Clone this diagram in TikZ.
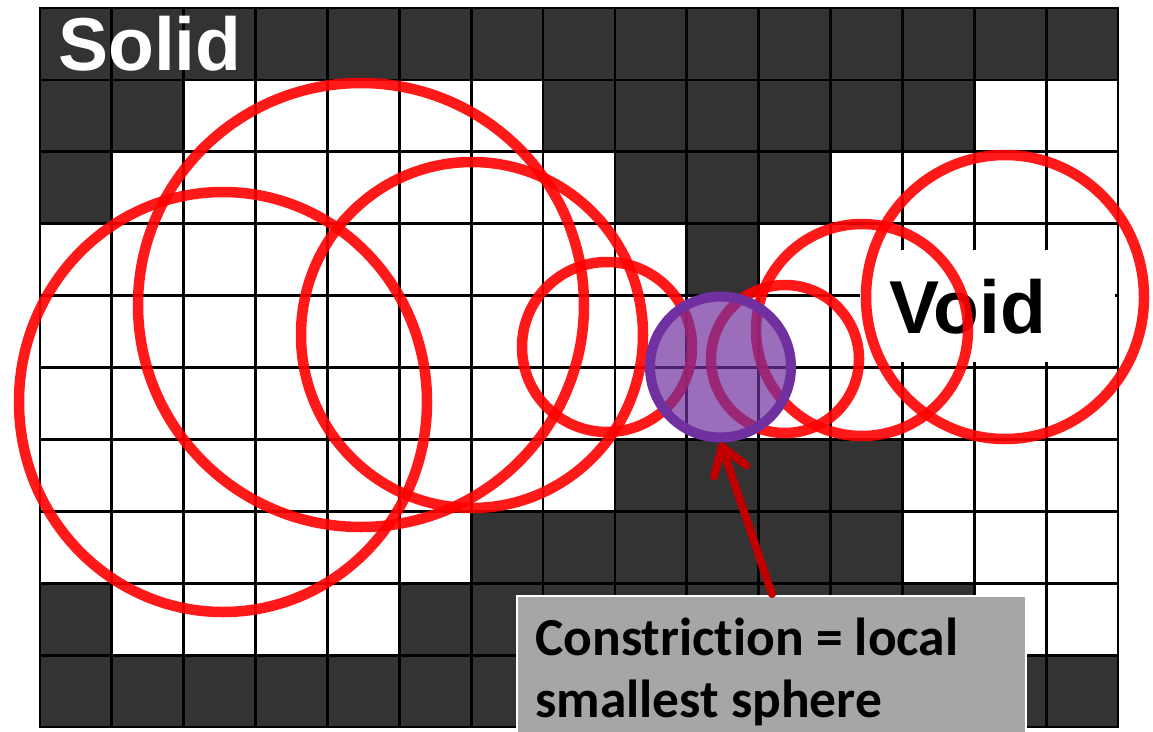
\documentclass[tikz,border=0pt]{standalone}
\usepackage{fontspec}
\setmainfont{Liberation Sans}
\newfontfamily\notefont[Ligatures=NoCommon]{Carlito}
\usetikzlibrary{arrows.meta}
\definecolor{cellgray}{HTML}{333333}
\definecolor{ringred}{HTML}{FF0000}
\definecolor{ringpurple}{HTML}{7030A0}
\definecolor{arrowred}{HTML}{C00000}
\definecolor{notegray}{HTML}{A6A6A6}

\begin{document}
\begin{tikzpicture}[x=1pt,y=-1pt,
  solidcell/.style={fill=cellgray},
  gridline/.style={draw=black, line width=2.8pt},
  pore/.style={draw=ringred, draw opacity=0.9, line width=10.5pt},
  constriction/.style={circle, draw=ringpurple, line width=10pt,
    fill=ringpurple, fill opacity=0.7, minimum size=141pt, inner sep=0pt},
  pointer/.style={draw=arrowred, line width=8pt, line cap=round,
    -{Straight Barb[length=26pt,width=34pt,line cap=round,line join=round]}},
  notebox/.style={rectangle, fill=notegray, draw=white, line width=2pt,
    anchor=north west, minimum width=509pt, minimum height=140pt, inner sep=0pt},
  bigword/.style={anchor=base west, inner sep=0pt,
    font=\bfseries\fontsize{75}{80}\selectfont},
  noteline/.style={anchor=base west, inner sep=0pt,
    font=\notefont\bfseries\fontsize{53.5}{62}\selectfont}
]
\useasboundingbox (0,0) rectangle (1153,731);

% solid voxels, row by row
\foreach \r/\cols in {0/{0,...,14},
                      1/{0,1,7,8,9,10,11,12},
                      2/{0,8,9,10},
                      3/{9},
                      6/{8,9,10,11},
                      7/{6,7,8,9,10,11},
                      8/{0,5,6,7,8,9,10,11,12},
                      9/{0,...,14}}{
  \foreach \c in \cols{
    \fill[solidcell] ({40+\c*71.87},{8+\r*71.9}) rectangle ++(71.87,71.9);
  }
}

% voxel grid
\foreach \i in {1,...,14}
  \draw[gridline] ({40+\i*71.87},8) -- ({40+\i*71.87},727);
\foreach \j in {1,...,9}
  \draw[gridline] (40,{8+\j*71.9}) -- (1118,{8+\j*71.9});
\draw[gridline] (40,8) rectangle (1118,727);

% label backgrounds and labels
\fill[white] (860,250) rectangle (1115,362);
\node[bigword, text=white] (solid) at (58,70) {Solid};
\node[bigword, text=black] (void) at (889,333) {Void};

% inscribed spheres along the pore
\draw[pore] (223,402) ellipse [x radius=204pt, y radius=210pt];
\draw[pore] (361,305) ellipse [x radius=223pt, y radius=222pt];
\draw[pore] (472,335) ellipse [x radius=171pt, y radius=173pt];
\draw[pore] (607,347) circle [radius=85pt];
\draw[pore] (785,359) circle [radius=74pt];
\draw[pore] (862,330) circle [radius=106pt];
\draw[pore] (1005,297) ellipse [x radius=139pt, y radius=142pt];

% smallest sphere
\node[constriction] (neck) at (720.5,367) {};

% explanation box
\node[notebox] (note) at (516,595) {};
\node[noteline] (line1) at (535,655) {Constriction = local};
\node[noteline] (line2) at (535,717) {smallest sphere};

\coordinate (tail) at (772,594);
\draw[pointer] (tail) -- (neck.south);
\end{tikzpicture}
\end{document}
